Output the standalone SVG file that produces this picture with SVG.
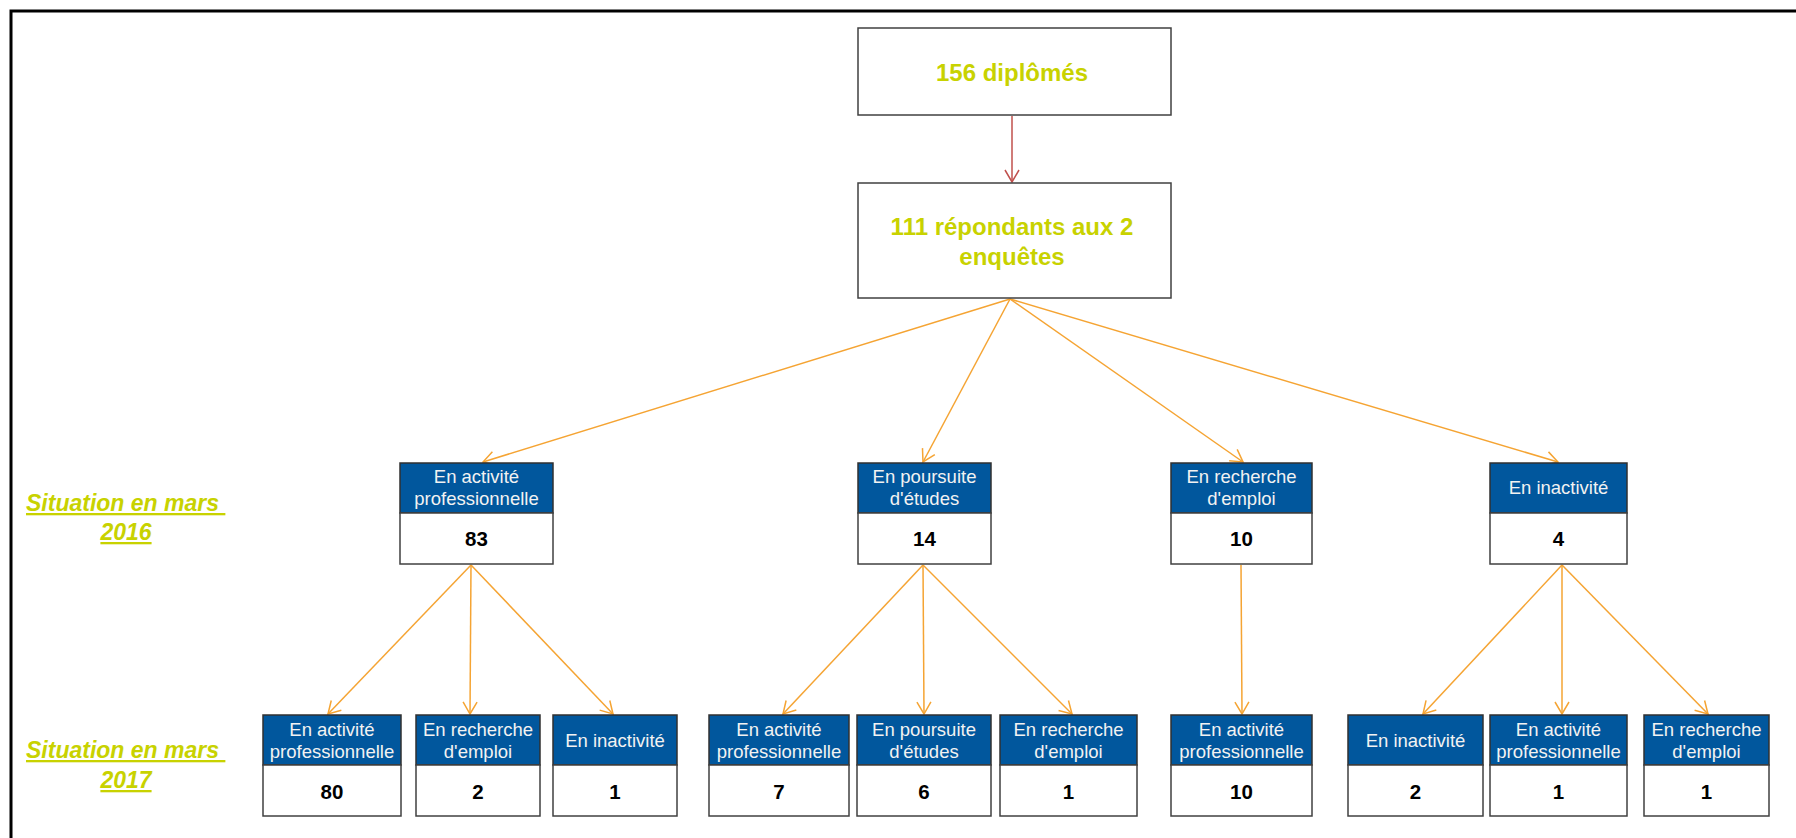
<svg xmlns="http://www.w3.org/2000/svg" width="1796" height="838" viewBox="0 0 1796 838">
<style>
.frame{stroke:#000;stroke-width:3;fill:none}
.tbox{fill:#fff;stroke:#404040;stroke-width:1.5}
.hdr{fill:#01579D;stroke:#303030;stroke-width:1.5}
.val{fill:#fff;stroke:#404040;stroke-width:1.5}
.ht{font-family:"Liberation Sans",Arial,sans-serif;font-size:18.5px;fill:#F2F2F2;text-anchor:middle}
.vt{font-family:"Liberation Sans",Arial,sans-serif;font-size:20.5px;font-weight:bold;fill:#000;text-anchor:middle}
.tt{font-family:"Liberation Sans",Arial,sans-serif;font-size:24px;font-weight:bold;fill:#C8D200;text-anchor:middle}
.lab{font-family:"Liberation Sans",Arial,sans-serif;font-size:23px;font-weight:bold;font-style:italic;fill:#C8D200;text-decoration:underline}
.c{stroke:#F5A433;stroke-width:1.5;fill:none;marker-end:url(#ao)}
.r{stroke:#C0504D;stroke-width:1.5;fill:none;marker-end:url(#ar)}
</style>
<defs>
<marker id="ao" markerUnits="userSpaceOnUse" viewBox="0 0 14 16" markerWidth="14" markerHeight="16" refX="13" refY="8" orient="auto">
<path d="M1,1 L13,8 L1,15" fill="none" stroke="#F5A433" stroke-width="1.5"/>
</marker>
<marker id="ar" markerUnits="userSpaceOnUse" viewBox="0 0 14 16" markerWidth="14" markerHeight="16" refX="13" refY="8" orient="auto">
<path d="M1,1 L13,8 L1,15" fill="none" stroke="#C0504D" stroke-width="1.5"/>
</marker>
</defs>
<rect width="1796" height="838" fill="#fff"/>
<path class="frame" d="M11,838 V11 H1796"/>

<g id="labels">
<text class="lab" x="26" y="511" xml:space="preserve">Situation en mars </text>
<text class="lab" x="126" y="540" text-anchor="middle">2016</text>
<text class="lab" x="26" y="758" xml:space="preserve">Situation en mars </text>
<text class="lab" x="126" y="788" text-anchor="middle">2017</text>
</g>

<g id="connectors">
<line class="r" x1="1012" y1="116" x2="1012" y2="182"/>
<line class="c" x1="1010" y1="299" x2="483" y2="462"/>
<line class="c" x1="1010" y1="299" x2="923" y2="462"/>
<line class="c" x1="1010" y1="299" x2="1243" y2="462"/>
<line class="c" x1="1010" y1="299" x2="1558" y2="462"/>
<line class="c" x1="471" y1="565" x2="328" y2="714"/>
<line class="c" x1="471" y1="565" x2="470" y2="714"/>
<line class="c" x1="471" y1="565" x2="613" y2="714"/>
<line class="c" x1="923" y1="565" x2="783" y2="714"/>
<line class="c" x1="923" y1="565" x2="924" y2="714"/>
<line class="c" x1="923" y1="565" x2="1072" y2="714"/>
<line class="c" x1="1241" y1="565" x2="1242" y2="714"/>
<line class="c" x1="1562" y1="565" x2="1423" y2="714"/>
<line class="c" x1="1562" y1="565" x2="1562" y2="714"/>
<line class="c" x1="1562" y1="565" x2="1708" y2="714"/>
</g>

<g id="n-diplomes">
<rect class="tbox" x="858" y="28" width="313" height="87"/>
<text class="tt" x="1012" y="81">156 diplômés</text>
</g>
<g id="n-repondants">
<rect class="tbox" x="858" y="183" width="313" height="115"/>
<text class="tt" x="1012" y="235">111 répondants aux 2</text>
<text class="tt" x="1012" y="265">enquêtes</text>
</g>

<g id="n2016-activite">
<rect class="hdr" x="400" y="463" width="153" height="50"/>
<rect class="val" x="400" y="513" width="153" height="51"/>
<text class="ht" x="476.5" y="483">En activité</text>
<text class="ht" x="476.5" y="505">professionnelle</text>
<text class="vt" x="476.5" y="546">83</text>
</g>
<g id="n2016-poursuite">
<rect class="hdr" x="858" y="463" width="133" height="50"/>
<rect class="val" x="858" y="513" width="133" height="51"/>
<text class="ht" x="924.5" y="483">En poursuite</text>
<text class="ht" x="924.5" y="505">d'études</text>
<text class="vt" x="924.5" y="546">14</text>
</g>
<g id="n2016-recherche">
<rect class="hdr" x="1171" y="463" width="141" height="50"/>
<rect class="val" x="1171" y="513" width="141" height="51"/>
<text class="ht" x="1241.5" y="483">En recherche</text>
<text class="ht" x="1241.5" y="505">d'emploi</text>
<text class="vt" x="1241.5" y="546">10</text>
</g>
<g id="n2016-inactivite">
<rect class="hdr" x="1490" y="463" width="137" height="50"/>
<rect class="val" x="1490" y="513" width="137" height="51"/>
<text class="ht" x="1558.5" y="494">En inactivité</text>
<text class="vt" x="1558.5" y="546">4</text>
</g>

<g id="n2017-a1">
<rect class="hdr" x="263" y="715" width="138" height="50"/>
<rect class="val" x="263" y="765" width="138" height="51"/>
<text class="ht" x="332" y="736">En activité</text>
<text class="ht" x="332" y="758">professionnelle</text>
<text class="vt" x="332" y="799">80</text>
</g>
<g id="n2017-a2">
<rect class="hdr" x="416" y="715" width="124" height="50"/>
<rect class="val" x="416" y="765" width="124" height="51"/>
<text class="ht" x="478" y="736">En recherche</text>
<text class="ht" x="478" y="758">d'emploi</text>
<text class="vt" x="478" y="799">2</text>
</g>
<g id="n2017-a3">
<rect class="hdr" x="553" y="715" width="124" height="50"/>
<rect class="val" x="553" y="765" width="124" height="51"/>
<text class="ht" x="615" y="747">En inactivité</text>
<text class="vt" x="615" y="799">1</text>
</g>
<g id="n2017-b1">
<rect class="hdr" x="709" y="715" width="140" height="50"/>
<rect class="val" x="709" y="765" width="140" height="51"/>
<text class="ht" x="779" y="736">En activité</text>
<text class="ht" x="779" y="758">professionnelle</text>
<text class="vt" x="779" y="799">7</text>
</g>
<g id="n2017-b2">
<rect class="hdr" x="857" y="715" width="134" height="50"/>
<rect class="val" x="857" y="765" width="134" height="51"/>
<text class="ht" x="924" y="736">En poursuite</text>
<text class="ht" x="924" y="758">d'études</text>
<text class="vt" x="924" y="799">6</text>
</g>
<g id="n2017-b3">
<rect class="hdr" x="1000" y="715" width="137" height="50"/>
<rect class="val" x="1000" y="765" width="137" height="51"/>
<text class="ht" x="1068.5" y="736">En recherche</text>
<text class="ht" x="1068.5" y="758">d'emploi</text>
<text class="vt" x="1068.5" y="799">1</text>
</g>
<g id="n2017-c1">
<rect class="hdr" x="1171" y="715" width="141" height="50"/>
<rect class="val" x="1171" y="765" width="141" height="51"/>
<text class="ht" x="1241.5" y="736">En activité</text>
<text class="ht" x="1241.5" y="758">professionnelle</text>
<text class="vt" x="1241.5" y="799">10</text>
</g>
<g id="n2017-d1">
<rect class="hdr" x="1348" y="715" width="135" height="50"/>
<rect class="val" x="1348" y="765" width="135" height="51"/>
<text class="ht" x="1415.5" y="747">En inactivité</text>
<text class="vt" x="1415.5" y="799">2</text>
</g>
<g id="n2017-d2">
<rect class="hdr" x="1490" y="715" width="137" height="50"/>
<rect class="val" x="1490" y="765" width="137" height="51"/>
<text class="ht" x="1558.5" y="736">En activité</text>
<text class="ht" x="1558.5" y="758">professionnelle</text>
<text class="vt" x="1558.5" y="799">1</text>
</g>
<g id="n2017-d3">
<rect class="hdr" x="1644" y="715" width="125" height="50"/>
<rect class="val" x="1644" y="765" width="125" height="51"/>
<text class="ht" x="1706.5" y="736">En recherche</text>
<text class="ht" x="1706.5" y="758">d'emploi</text>
<text class="vt" x="1706.5" y="799">1</text>
</g>
</svg>
